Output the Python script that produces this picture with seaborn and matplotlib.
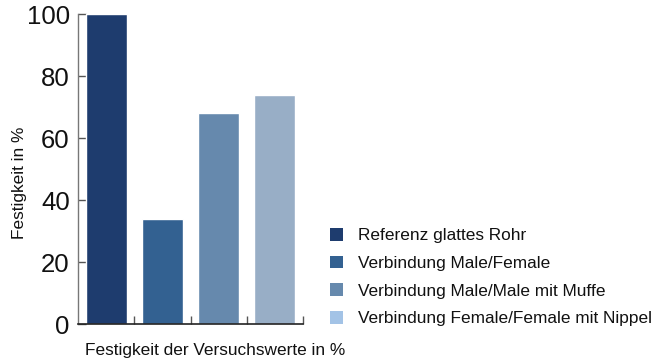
import matplotlib
matplotlib.use("Agg")
import matplotlib.pyplot as plt
from matplotlib.patches import Patch
import seaborn as sns
import pandas as pd

categories = [
    "Referenz glattes Rohr",
    "Verbindung Male/Female",
    "Verbindung Male/Male mit Muffe",
    "Verbindung Female/Female mit Nippel",
]
festigkeit = [100, 34, 68, 74]
bar_colors = ["#1e3c6e", "#336191", "#6689ad", "#98aec6"]
legend_colors = ["#1e3c6e", "#336191", "#6689ad", "#a3c3e6"]
y_ticks = [0, 20, 40, 60, 80, 100]

sns.set_theme(style="white")
plt.rcParams["font.family"] = ["Liberation Sans", "DejaVu Sans"]

df = pd.DataFrame({"Kategorie": categories, "Festigkeit": festigkeit})

W, H = 668, 358
fig = plt.figure(figsize=(W / 100, H / 100), dpi=100)
ax = fig.add_axes([78 / W, (H - 324) / H, (303 - 78) / W, (324 - 14) / H])

sns.barplot(data=df, x="Kategorie", y="Festigkeit", hue="Kategorie",
            palette=bar_colors, width=0.73, saturation=1, legend=False, ax=ax)

ax.set_xlim(-0.5, 3.5)
ax.set_ylim(0, 100)
ax.set_yticks(y_ticks)
ax.set_yticklabels([str(t) for t in y_ticks], fontsize=18.5, color="#111111")
ax.set_xticks([0.5, 1.5, 2.5, 3.5])
ax.set_xticklabels([])
ax.tick_params(axis="y", direction="in", length=6, width=1, color="#555555", pad=6, left=True)
ax.tick_params(axis="x", direction="in", length=6, width=1, color="#555555", bottom=True)
ax.set_xlabel("")
ax.set_ylabel("")
for side in ["top", "right"]:
    ax.spines[side].set_visible(False)
ax.spines["left"].set_color("#777777")
ax.spines["left"].set_linewidth(1)
ax.spines["bottom"].set_color("#222222")
ax.spines["bottom"].set_linewidth(1.2)

fig.text(85 / W, 1 - 350 / H, "Festigkeit der Versuchswerte in %", fontsize=12.4,
         ha="left", va="center", color="#111111")
fig.text(20 / W, 1 - 183 / H, "Festigkeit in %", fontsize=12.4, rotation=90,
         ha="center", va="center", color="#111111")

handles = [Patch(facecolor=c, edgecolor="none") for c in legend_colors]
fig.legend(handles, categories, loc="upper left", bbox_to_anchor=(330 / W, 1 - 228 / H),
           frameon=False, fontsize=12.4, borderpad=0, borderaxespad=0,
           handlelength=0.75, handleheight=0.75, handletextpad=0.85, labelspacing=0.72,
           labelcolor="#111111")

fig.savefig("out.png", dpi=100)
